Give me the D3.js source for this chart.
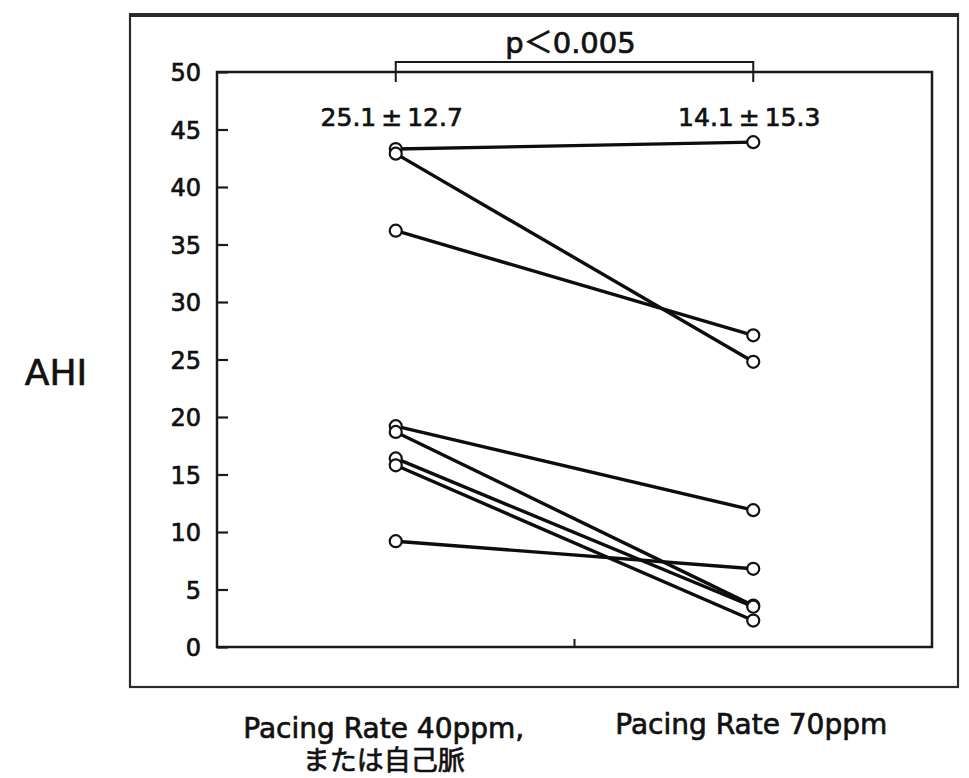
<!DOCTYPE html>
<html>
<head>
<meta charset="utf-8">
<script src="https://cdn.jsdelivr.net/npm/d3@7"></script>
<style>
  html, body { margin: 0; padding: 0; background: #fff; }
  svg { display: block; }
  text { font-family: "DejaVu Sans", "Noto Sans CJK JP", sans-serif; fill: #111; stroke: #111; stroke-width: 0.7px; }
</style>
</head>
<body>
<svg id="chart" width="969" height="778"></svg>
<script>
// ---- data ----
const categories = ["Pacing Rate 40ppm", "Pacing Rate 70ppm"];
const before = [43.3, 42.9, 36.2, 19.2, 18.7, 16.4, 15.8, 9.2];
const after  = [43.9, 24.8, 27.1, 11.9, 3.6, 3.5, 2.3, 6.8];
const yTicks = [0, 5, 10, 15, 20, 25, 30, 35, 40, 45, 50];
const summaryLabels = ["25.1\u2009±\u200912.7", "14.1\u2009±\u200915.3"];
const pLabel = "p＜0.005";
const yTitle = "AHI";
const xLabelLines = [["Pacing Rate 40ppm,", "または自己脈"], ["Pacing Rate 70ppm"]];

// ---- layout ----
const svg = d3.select("#chart");
const plot = { left: 217, right: 932, top: 72, bottom: 647 };

const x = d3.scalePoint().domain(categories).range([plot.left, plot.right]).padding(0.5);
const y = d3.scaleLinear().domain([0, 50]).range([plot.bottom, plot.top]);

// outer frame
svg.append("rect")
  .attr("x", 130).attr("y", 15).attr("width", 828).attr("height", 672)
  .attr("fill", "none").attr("stroke", "#2a2a2a").attr("stroke-width", 2.2);
svg.append("line")
  .attr("x1", 129).attr("x2", 959).attr("y1", 15).attr("y2", 15)
  .attr("stroke", "#2a2a2a").attr("stroke-width", 4);

// plot box
svg.append("rect")
  .attr("x", plot.left).attr("y", plot.top)
  .attr("width", plot.right - plot.left).attr("height", plot.bottom - plot.top)
  .attr("fill", "none").attr("stroke", "#1a1a1a").attr("stroke-width", 2.5);

// y axis (ticks inside)
const yAxis = d3.axisRight(y).tickValues(yTicks).tickSize(11).tickFormat(d3.format("d"));
const gy = svg.append("g").attr("transform", `translate(${plot.left},0)`).call(yAxis);
gy.select(".domain").remove();
gy.selectAll(".tick line").attr("stroke", "#1a1a1a").attr("stroke-width", 2.2);
gy.selectAll(".tick text")
  .attr("x", -16).attr("text-anchor", "end").attr("dy", "0.36em")
  .style("font-size", "24px").style("font-family", "'DejaVu Sans', sans-serif")
  .attr("fill", "#111").attr("stroke", "#111").attr("stroke-width", 0.7);

// bottom middle tick
svg.append("line")
  .attr("x1", (plot.left + plot.right) / 2).attr("x2", (plot.left + plot.right) / 2)
  .attr("y1", plot.bottom).attr("y2", plot.bottom - 8)
  .attr("stroke", "#1a1a1a").attr("stroke-width", 2);

// paired lines
const pairs = before.map((b, i) => [b, after[i]]);
const line = d3.line().x((d, j) => x(categories[j])).y(d => y(d));
svg.append("g").selectAll("path").data(pairs).join("path")
  .attr("d", d => line(d))
  .attr("fill", "none").attr("stroke", "#0d0d0d").attr("stroke-width", 3.4);

// points
const pts = [];
before.forEach(v => pts.push({ c: categories[0], v }));
after.forEach(v => pts.push({ c: categories[1], v }));
svg.append("g").selectAll("circle").data(pts).join("circle")
  .attr("cx", d => x(d.c)).attr("cy", d => y(d.v)).attr("r", 6)
  .attr("fill", "#fff").attr("stroke", "#111").attr("stroke-width", 2.2);

// summary labels
svg.append("g").selectAll("text").data(summaryLabels).join("text")
  .attr("x", (d, i) => x(categories[i]) - 4).attr("y", 126)
  .attr("text-anchor", "middle").style("font-size", "25px").text(d => d);

// significance bracket
const bx0 = x(categories[0]), bx1 = x(categories[1]);
svg.append("path")
  .attr("d", `M${bx0},82 V62 H${bx1} V82`)
  .attr("fill", "none").attr("stroke", "#1a1a1a").attr("stroke-width", 2);
svg.append("text")
  .attr("x", (bx0 + bx1) / 2 - 4).attr("y", 53)
  .attr("text-anchor", "middle").style("font-size", "29px").text(pLabel);

// y title
svg.append("text").attr("x", 56).attr("y", 385)
  .attr("text-anchor", "middle").style("font-size", "36px").text(yTitle);

// x labels
const xl = svg.append("g");
xLabelLines.forEach((lines, i) => {
  const cx = i === 0 ? x(categories[0]) - 12 : x(categories[1]) - 2;
  const base = i === 0 ? 738 : 734;
  lines.forEach((t, k) => {
    xl.append("text").attr("x", cx).attr("y", base + k * 32)
      .attr("text-anchor", "middle").style("font-size", k === 0 ? "28px" : "27px").text(t);
  });
});
</script>
</body>
</html>
